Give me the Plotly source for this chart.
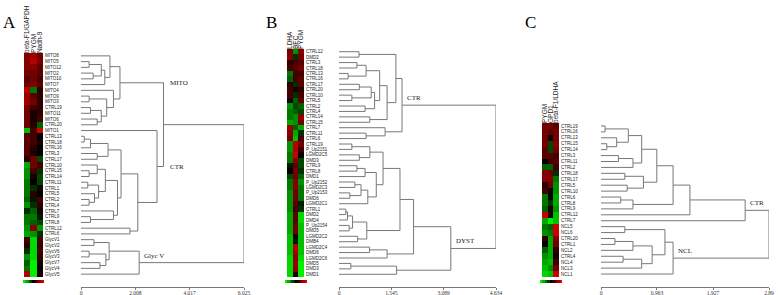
import plotly.graph_objects as go

W, H = 778, 295

# ---------------- Panel A data ----------------
A_cols = ["beta-F1/GAPDH", "PYGM", "Nadh-9"]
A_rows = ["MITO8", "MITO5", "MITO12", "MITO2", "MITO10", "MITO7", "MITO4", "MITO9", "MITO3",
          "CTRL19", "MITO11", "MITO6", "CTRL20", "MITO1", "CTRL13", "CTRL18", "CTRL16", "CTRL3",
          "CTRL17", "CTRL10", "CTRL15", "CTRL14", "CTRL11", "CTRL1", "CTRL5", "CTRL2", "CTRL4",
          "CTRL7", "CTRL9", "CTRL8", "CTRL12", "CTRL6", "GlycV1", "GlycV2", "GlycV6", "GlycV3",
          "GlycV7", "GlycV4", "GlycV5"]
A_vals = [[0.6, 0.7, 0.5], [0.6, 0.8, 0.5], [0.6, 0.6, 0.4], [0.5, 0.5, 0.4], [0.4, 0.5, 0.3],
          [0.5, 0.6, 0.4], [0.8, -0.5, 0.2], [0.7, 0.4, 0.2], [0.7, 0.5, 0.2], [0.5, 0.3, 0.2],
          [0.5, 0.1, 0.2], [0.5, 0.1, 0.3], [0.5, 0.2, -0.4], [-0.8, 0.3, 0.9], [0.4, 0.3, 0.0],
          [0.4, 0.3, 0.1], [0.4, 0.2, 0.0], [0.4, 0.1, 0.0], [0.2, 0.5, -0.3], [-0.7, 0.5, 0.3],
          [-0.6, 0.3, -0.2], [-0.6, 0.1, -0.3], [-0.5, 0.0, -0.3], [-0.5, -0.2, 0.1], [-0.5, 0.2, 0.0],
          [-0.4, -0.1, 0.3], [-0.6, -0.2, 0.2], [-0.2, -0.4, 0.1], [-0.5, -0.5, -0.1], [-0.5, -0.4, -0.3],
          [-0.6, 0.6, -0.6], [-0.7, -0.6, -0.2], [0.3, -0.9, 0.3], [0.2, -0.9, 0.2], [-0.2, -0.9, 0.3],
          [-0.6, -0.9, 0.2], [-0.4, -1.0, 0.1], [-0.5, -1.0, 0.0], [0.8, -1.0, 0.1]]
A_ticks = [0, 2.008, 4.017, 6.025]
A_ticktext = ["0", "2.008", "4.017", "6.025"]

# cluster trees: [left, right, merge height]
A_mito = [["MITO8", [[["MITO5", "MITO12", 0.3], ["MITO2", "MITO10", 0.45], 0.75], "MITO7", 0.88], 1.07],
          ["MITO4", [["MITO9", "MITO3", 0.3], [["CTRL19", "MITO11", 0.35], ["MITO6", "CTRL20", 0.6], 0.75], 0.95], 1.2],
          1.44]
A_c1 = [[["CTRL13", "CTRL18", 0.12], "CTRL16", 0.35], ["CTRL3", "CTRL17", 0.6], 1.0]
A_c2a = [["CTRL10", ["CTRL15", "CTRL14", 0.3], 0.6],
         [["CTRL11", "CTRL1", 0.25], ["CTRL5", ["CTRL2", "CTRL4", 0.3], 0.5], 0.65], 0.9]
A_c2b = ["CTRL7", ["CTRL9", "CTRL8", 0.35], 1.2]
A_ctr = ["MITO1", [[A_c1, [A_c2a, A_c2b, 1.35], 1.48], ["CTRL12", "CTRL6", 1.81], 2.1], 2.81]
A_glyc = [[["GlycV1", "GlycV2", 0.48], [["GlycV6", "GlycV3", 0.3], ["GlycV7", "GlycV4", 0.7], 0.92], 1.04],
          "GlycV5", 2.15]
A_tree = [[A_mito, A_ctr, 3.05], A_glyc, 6.025]

# ---------------- Panel B data ----------------
B_cols = ["LDHA", "BEC", "PYGM"]
B_rows = ["CTRL12", "DMD2", "CTRL3", "CTRL18", "CTRL13", "CTRL16", "CTRL17", "CTRL20", "CTRL10",
          "CTRL5", "CTRL2", "CTRL4", "CTRL14", "CTRL15", "CTRL7", "CTRL11", "CTRL6", "CTRL19",
          "P_Up2151", "LGMD2C5", "DMD3", "CTRL9", "CTRL8", "DMD1", "P_Up2152", "LGMD2C3",
          "P_Up2153", "DMD6", "LGMD2C1", "CTRL1", "DMD2", "DMD4", "P_Up2154", "DMD5", "LGMD2C2",
          "DMB4", "LGMD2C4", "DMD6", "LGMD2C6", "DMD5", "DMD3", "DMD1"]
B_vals = [[0.5, -0.6, 0.6], [0.6, -0.2, 0.5], [0.2, 0.3, 0.4], [0.3, 0.4, 0.5], [-0.5, 0.3, 0.3],
          [-0.4, 0.3, 0.4], [0.2, -0.2, 0.4], [0.3, 0.1, 0.2], [0.3, -0.2, 0.3], [0.1, -0.4, 0.4],
          [-0.6, -0.3, -0.4], [-0.5, -0.4, -0.3], [-0.5, -0.6, 0.6], [-0.7, -0.6, 0.5], [0.7, -0.4, -0.7],
          [0.6, -0.7, -0.2], [0.5, -0.8, 0.3], [-0.6, 0.8, 0.5], [-0.6, 0.8, 0.3], [-0.5, 0.9, 0.0],
          [-0.5, 0.6, -0.3], [-0.1, 0.4, -0.3], [0.0, 0.5, -0.2], [-0.3, 0.5, -0.4], [-0.5, 0.6, -0.6],
          [-0.5, 0.6, -0.5], [-0.6, 0.5, -0.5], [-0.6, 0.5, -0.5], [-0.6, 0.4, -0.1], [-0.6, 0.3, -0.2],
          [-0.7, 0.4, -0.9], [-0.7, 0.4, -0.9], [-0.7, 0.5, -0.8], [-0.7, 0.5, -0.8], [-0.8, 0.1, -0.8],
          [-0.8, -0.1, -0.8], [-0.8, 0.8, -0.8], [-0.8, 0.7, -0.8], [-0.9, 0.6, -0.9], [-0.9, 0.7, -1.0],
          [-0.9, 0.6, -1.0], [-0.9, 0.1, -1.0]]
B_ticks = [0, 1.545, 3.089, 4.634]
B_ticktext = ["0", "1.545", "3.089", "4.634"]

B_b2 = [[["CTRL3", "CTRL18", 0.53], ["CTRL13", "CTRL16", 0.27], 0.8],
        [[["CTRL17", "CTRL20", 0.6], ["CTRL10", "CTRL5", 0.38], 0.95], ["CTRL2", "CTRL4", 0.77], 1.05], 1.2]
B_ctr = [[["CTRL12", "DMD2", 0.59], [B_b2, ["CTRL14", "CTRL15", 0.91], 1.42], 1.68],
         ["CTRL7", ["CTRL11", "CTRL6", 0.8], 1.36], 1.86]
B_d1 = [["CTRL19", "P_Up2151", 0.38], ["LGMD2C5", "DMD3", 0.6], 0.91]
B_d2 = [[["CTRL9", "CTRL8", 0.53], "DMD1", 0.77],
        [[["P_Up2152", "LGMD2C3", 0.47], ["P_Up2153", "DMD6", 0.32], 0.65], "LGMD2C1", 0.85], 1.1]
B_d3 = [[[["CTRL1", "DMD2", 0.2], "DMD4", 0.25], ["P_Up2154", "DMD5", 0.3], 0.4], ["LGMD2C2", "DMB4", 0.55], 0.82]
B_d4 = [["LGMD2C4", "DMD6", 0.9], "LGMD2C6", 1.42]
B_d5 = [["DMD5", "DMD3", 0.35], "DMD1", 1.7]
B_dyst = [[[[B_d1, B_d2, 1.3], B_d3, 1.8], B_d4, 2.2], B_d5, 3.3]
B_tree = [B_ctr, B_dyst, 4.634]

# ---------------- Panel C data ----------------
C_cols = ["PYGM", "GPD1", "beta-F1/LDHA"]
C_rows = ["CTRL19", "CTRL16", "CTRL13", "CTRL15", "CTRL14", "CTRL3", "CTRL11", "CTRL2", "CTRL18",
          "CTRL17", "CTRL5", "CTRL10", "CTRL6", "CTRL8", "CTRL9", "CTRL12", "CTRL7", "NCL5", "NCL6",
          "CTRL20", "CTRL1", "NCL2", "CTRL4", "NCL4", "NCL3", "NCL1"]
C_vals = [[0.5, 0.5, 0.4], [0.5, 0.4, 0.5], [0.5, 0.1, 0.5], [0.5, -0.3, 0.6], [0.4, -0.3, 0.5],
          [0.4, 0.4, 0.3], [0.0, 0.3, 0.4], [-0.4, -0.4, 0.3], [0.6, 0.5, -0.2], [0.6, 0.6, -0.5],
          [0.2, 0.5, -0.6], [0.3, 0.0, -0.6], [-0.5, 0.0, -0.7], [-0.5, -0.2, -0.7], [-0.4, 0.1, -0.6],
          [0.9, 0.1, -0.8], [-0.7, -1.0, -0.8], [-0.5, -0.4, 0.9], [-0.6, -0.5, 0.9], [0.2, -0.7, 0.6],
          [0.0, -0.7, 0.5], [-0.4, -0.7, 0.2], [-0.6, -0.7, 0.1], [-0.7, -0.8, 0.3], [-0.8, -0.6, 0.5],
          [-0.9, -0.8, 0.9]]
C_ticks = [0, 0.963, 1.927, 2.89]
C_ticktext = ["0", "0.963", "1.927", "2.89"]

C_g1 = [["CTRL19", "CTRL16", 0.07], ["CTRL13", ["CTRL15", "CTRL14", 0.1], 0.27], 0.47]
C_g2 = [["CTRL3", "CTRL11", 0.3], "CTRL2", 0.55]
C_g3 = [["CTRL18", "CTRL17", 0.41], ["CTRL5", "CTRL10", 0.45], 0.73]
C_g4 = [["CTRL6", "CTRL8", 0.34], "CTRL9", 0.55]
C_ctr = [[[[[C_g1, C_g2, 0.7], C_g3, 0.96], C_g4, 1.24], "CTRL12", 1.53], "CTRL7", 2.48]
C_ncl = [[["NCL5", "NCL6", 0.41],
          [[["CTRL20", "CTRL1", 0.24], "NCL2", 0.55], [["CTRL4", "NCL4", 0.38], "NCL3", 0.7], 0.88], 1.1],
         "NCL1", 1.24]
C_tree = [C_ctr, C_ncl, 2.89]

SCALE_STEPS = [-1.0, -0.75, -0.5, -0.25, 0.0, 0.25, 0.5, 0.75, 1.0]

# ---------------- layout (pixel positions) ----------------
panels = [
    dict(letter="A", cols=A_cols, rows=A_rows, vals=A_vals, tree=A_tree, ticks=A_ticks, ticktext=A_ticktext,
         heat_x=(24, 43), rows_y=(53, 277), dendro_x=(81, 244), axis_y=287, strip=(23, 44, 280, 283),
         letter_xy=(9, 22),
         labels=[(A_mito, "MITO", "parent"), (A_ctr, "CTR", "parent"), (A_glyc, "Glyc V", "above")]),
    dict(letter="B", cols=B_cols, rows=B_rows, vals=B_vals, tree=B_tree, ticks=B_ticks, ticktext=B_ticktext,
         heat_x=(287, 304), rows_y=(49, 277), dendro_x=(339, 496), axis_y=287, strip=(285, 307, 280, 283),
         letter_xy=(271, 23),
         labels=[(B_ctr, "CTR", "above"), (B_dyst, "DYST", "above")]),
    dict(letter="C", cols=C_cols, rows=C_rows, vals=C_vals, tree=C_tree, ticks=C_ticks, ticktext=C_ticktext,
         heat_x=(542, 559), rows_y=(123, 277), dendro_x=(601, 769), axis_y=287, strip=(540, 562, 280, 283),
         letter_xy=(530, 22),
         labels=[(C_ctr, "CTR", "above"), (C_ncl, "NCL", "above")]),
]

COLORSCALE = [[0.0, "rgb(0,240,0)"], [0.5, "rgb(0,0,0)"], [1.0, "rgb(225,0,0)"]]
LINE = "rgb(120,120,120)"


def dx(p):
    return p / W


def dy(p):
    return 1 - p / H


def dendrogram(tree):
    xs, ys, pos = [], [], {}
    order = []

    def walk(node, parent_h):
        if isinstance(node, str):
            i = len(order)
            order.append(node)
            return 0.0, float(i)
        l, r, h = node
        lx, ly = walk(l, h)
        rx, ry = walk(r, h)
        xs.extend([lx, h, h, rx, None])
        ys.extend([ly, ly, ry, ry, None])
        y = (ly + ry) / 2
        pos[id(node)] = (h, y, parent_h)
        return h, y

    walk(tree, tree[2])
    return xs, ys, pos, order


fig = go.Figure()
layout = dict(width=W, height=H, margin=dict(l=0, r=0, t=0, b=0, autoexpand=False),
              paper_bgcolor="white", plot_bgcolor="rgba(0,0,0,0)", showlegend=False)
annotations = []

for k, p in enumerate(panels):
    n = len(p["rows"])
    ih, idn, ist = 3 * k + 1, 3 * k + 2, 3 * k + 3
    ydom = [dy(p["rows_y"][1]), dy(p["rows_y"][0])]
    yrange = [n - 0.5, -0.5]

    # heatmap
    fig.add_trace(go.Heatmap(z=p["vals"], x=list(range(3)), y=list(range(n)), colorscale=COLORSCALE,
                             zmin=-1, zmax=1, showscale=False, xaxis=f"x{ih}", yaxis=f"y{ih}",
                             hoverinfo="skip"))
    layout[f"xaxis{ih}"] = dict(domain=[dx(p["heat_x"][0]), dx(p["heat_x"][1])], range=[-0.5, 2.5],
                                anchor=f"y{ih}", side="top", tickangle=-90, tickmode="array",
                                tickvals=[0, 1, 2], ticktext=p["cols"], ticks="", showgrid=False,
                                zeroline=False, showline=False, ticklabelstandoff=-1,
                                tickfont=dict(family="Liberation Sans", size=6.5, color="#222"))
    layout[f"yaxis{ih}"] = dict(domain=ydom, range=yrange, anchor=f"x{ih}", side="right",
                                tickmode="array", tickvals=list(range(n)), ticktext=p["rows"],
                                ticks="", showgrid=False, zeroline=False, showline=False,
                                ticklabelstandoff=1,
                                tickfont=dict(family="Liberation Sans", size=4.5, color="#222"))

    # dendrogram
    xs, ys, pos, order = dendrogram(p["tree"])
    fig.add_trace(go.Scatter(x=xs, y=ys, mode="lines", line=dict(color=LINE, width=1),
                             xaxis=f"x{idn}", yaxis=f"y{idn}", hoverinfo="skip"))
    layout[f"xaxis{idn}"] = dict(domain=[dx(p["dendro_x"][0]), dx(p["dendro_x"][1])],
                                 range=[0, p["ticks"][-1]], anchor="free", position=dy(p["axis_y"]),
                                 tickmode="array", tickvals=p["ticks"], ticktext=p["ticktext"],
                                 ticks="outside", ticklen=2, tickcolor=LINE, showline=True,
                                 linecolor=LINE, linewidth=1, showgrid=False, zeroline=False,
                                 ticklabelstandoff=-2,
                                 tickfont=dict(family="Liberation Serif", size=5.5, color="#333"))
    layout[f"yaxis{idn}"] = dict(domain=ydom, range=yrange, anchor=f"x{idn}", visible=False)

    for node, text, mode in p["labels"]:
        h, y, ph = pos[id(node)]
        if mode == "parent":
            annotations.append(dict(x=ph, y=y, xref=f"x{idn}", yref=f"y{idn}", text=text,
                                    showarrow=False, xanchor="left", yanchor="middle", xshift=4,
                                    font=dict(family="Liberation Serif", size=7, color="#222")))
        else:
            annotations.append(dict(x=h, y=y, xref=f"x{idn}", yref=f"y{idn}", text=text,
                                    showarrow=False, xanchor="left", yanchor="bottom", xshift=3,
                                    yshift=1, font=dict(family="Liberation Serif", size=7, color="#222")))

    # small colour key below the heatmap
    sx0, sx1, sy0, sy1 = p["strip"]
    fig.add_trace(go.Heatmap(z=[SCALE_STEPS], colorscale=COLORSCALE, zmin=-1, zmax=1, showscale=False,
                             xaxis=f"x{ist}", yaxis=f"y{ist}", hoverinfo="skip"))
    layout[f"xaxis{ist}"] = dict(domain=[dx(sx0), dx(sx1)], anchor=f"y{ist}", visible=False)
    layout[f"yaxis{ist}"] = dict(domain=[dy(sy1), dy(sy0)], anchor=f"x{ist}", visible=False)

    # panel letter
    lx, ly = p["letter_xy"]
    annotations.append(dict(x=dx(lx), y=dy(ly), xref="paper", yref="paper", text=p["letter"],
                            showarrow=False, xanchor="center", yanchor="middle",
                            font=dict(family="Liberation Serif", size=17, color="black")))

layout["annotations"] = annotations
fig.update_layout(**layout)
fig.write_html("out.html", config={"displayModeBar": False},
               post_script="document.documentElement.style.margin='0';"
                           "document.body.style.margin='0';"
                           "document.body.style.overflow='hidden';")
